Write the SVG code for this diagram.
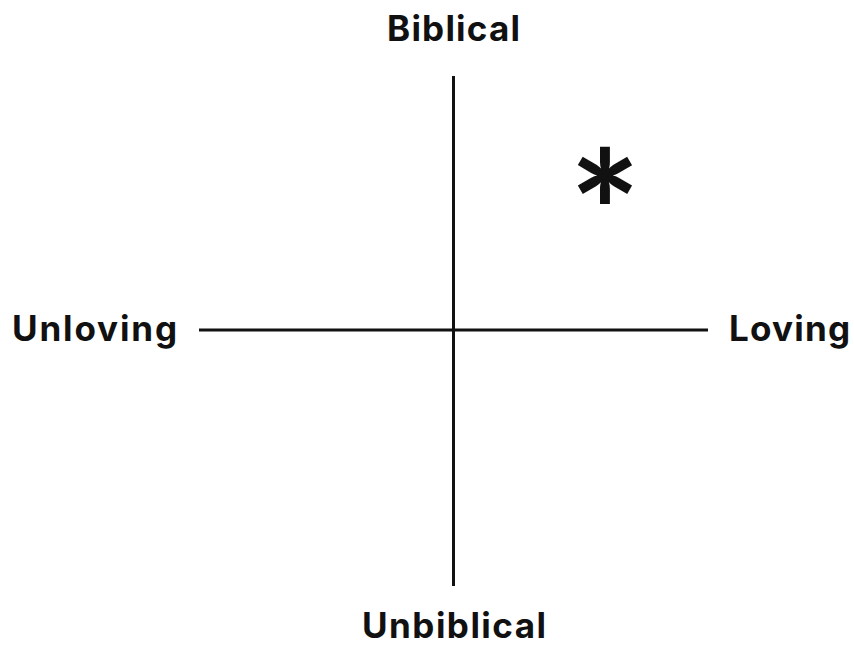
<svg xmlns="http://www.w3.org/2000/svg" width="854" height="645" viewBox="0 0 854 645">
<style>
.lbl{font-family:Inter,"Liberation Sans",sans-serif;font-weight:700;font-size:35px;fill:#111;}
.ax{stroke:#111;stroke-width:3;fill:none;}
</style>
<rect width="854" height="645" fill="#fff"/>
<g id="connectors">
<line class="ax" x1="453.5" y1="76" x2="453.5" y2="586"/>
<line class="ax" x1="199" y1="330" x2="708" y2="330"/>
</g>
<g id="biblical"><text class="lbl" x="387" y="41" textLength="133" lengthAdjust="spacing">Biblical</text></g>
<g id="unbiblical"><text class="lbl" x="362" y="638" textLength="184" lengthAdjust="spacing">Unbiblical</text></g>
<g id="unloving"><text class="lbl" x="12" y="341" textLength="165" lengthAdjust="spacing">Unloving</text></g>
<g id="loving"><text class="lbl" x="729" y="341" textLength="121" lengthAdjust="spacing">Loving</text></g>
<g id="star"><text x="605" y="275" text-anchor="middle" style="font-family:Lato,sans-serif;font-weight:700;font-size:168px;fill:#111">*</text></g>
</svg>
